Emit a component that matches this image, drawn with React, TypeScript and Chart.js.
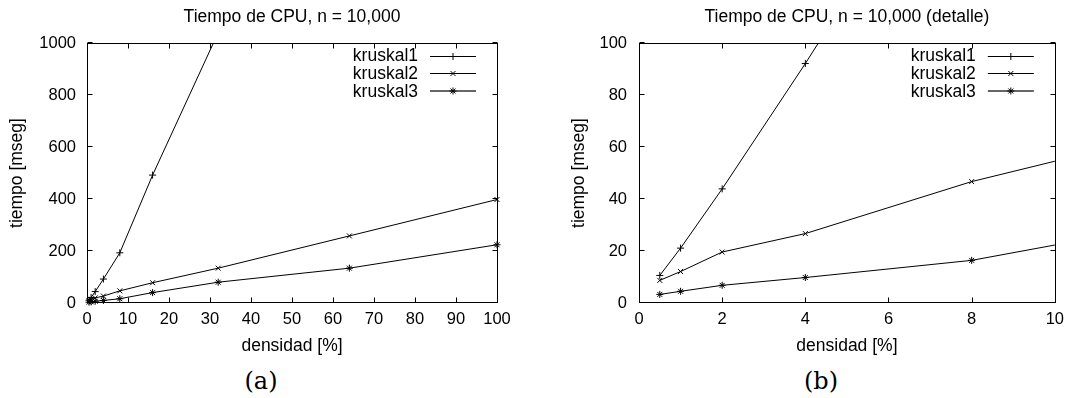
import React, { useEffect, useRef } from 'react';
import { Chart, registerables } from 'chart.js';
import { drawPoint } from 'chart.js/helpers';

Chart.register(...registerables);

// ---- data ----
const densidad = [0.5, 1, 2, 4, 8, 16, 32, 64, 100];
const kruskal1 = [10.6, 21.1, 43.9, 92.1, 193, 492, 1040];
const kruskal2 = [8.7, 12.1, 19.6, 26.7, 46.7, 78, 134, 258, 398];
const kruskal3 = [3.3, 4.5, 6.8, 9.8, 16.4, 40, 80, 134, 224];
const seriesNames = ['kruskal1', 'kruskal2', 'kruskal3'];
const seriesValues = [kruskal1, kruskal2, kruskal3];
const seriesMarkers = ['cross', 'crossRot', 'star'];

const titleA = 'Tiempo de CPU, n = 10,000';
const titleB = 'Tiempo de CPU, n = 10,000 (detalle)';
const xTitle = 'densidad [%]';
const yTitle = 'tiempo [mseg]';
const captionA = '(a)';
const captionB = '(b)';

const xRangeA = [0, 100, 10];
const yRangeA = [0, 1000, 200];
const xRangeB = [0, 10, 2];
const yRangeB = [0, 100, 20];

const FAMILY = '"Liberation Sans", Arial, sans-serif';

const framePlugin = {
  id: 'gnuFrame',
  afterDatasetsDraw(chart: any) {
    const { ctx, chartArea: a, scales } = chart;
    const L = Math.round(a.left) + 0.5;
    const R = Math.round(a.right) + 0.5;
    const T = Math.round(a.top) + 0.5;
    const B = Math.round(a.bottom) - 0.5;
    const tl = 5;
    ctx.save();
    ctx.strokeStyle = '#000';
    ctx.lineWidth = 1;
    ctx.beginPath();
    scales.x.ticks.forEach((t: any) => {
      const px = Math.round(scales.x.getPixelForValue(t.value)) + 0.5;
      ctx.moveTo(px, B); ctx.lineTo(px, B - tl);
      ctx.moveTo(px, T); ctx.lineTo(px, T + tl);
    });
    scales.y.ticks.forEach((t: any) => {
      const py = Math.round(scales.y.getPixelForValue(t.value)) - 0.5;
      ctx.moveTo(L, py); ctx.lineTo(L + tl, py);
      ctx.moveTo(R, py); ctx.lineTo(R - tl, py);
    });
    ctx.stroke();
    ctx.strokeRect(L, T, R - L, B - T);
    ctx.restore();
  },
  afterDraw(chart: any) {
    const { ctx, chartArea: a } = chart;
    ctx.save();
    ctx.font = '17.5px ' + FAMILY;
    ctx.textAlign = 'right';
    ctx.textBaseline = 'middle';
    chart.data.datasets.forEach((ds: any, i: number) => {
      const y = a.top + 12.5 + i * 17.7;
      ctx.fillStyle = '#000';
      ctx.fillText(ds.label, a.right - 79, y + 1);
      ctx.beginPath();
      ctx.strokeStyle = i === 2 ? '#666' : '#000';
      ctx.lineWidth = i === 2 ? 2 : 1;
      const ly = Math.round(y) + (i === 2 ? 0 : 0.5);
      ctx.moveTo(a.right - 67, ly);
      ctx.lineTo(a.right - 21, ly);
      ctx.stroke();
      ctx.strokeStyle = '#000';
      ctx.fillStyle = '#000';
      ctx.lineWidth = 1;
      drawPoint(ctx, { pointStyle: ds.pointStyle, radius: 3.5, borderWidth: 1, rotation: 0 } as any, a.right - 44, ly);
    });
    ctx.restore();
  },
};

type PanelProps = {
  left: number;
  width: number;
  height: number;
  title: string;
  xr: number[];
  yr: number[];
  yWidth: number;
  padRight: number;
  yTitlePad: number;
  yTickPad: number;
  clip: any;
};

function Panel(p: PanelProps) {
  const ref = useRef<HTMLCanvasElement | null>(null);
  useEffect(() => {
    if (!ref.current) return;
    const datasets = seriesNames.map((name, i) => ({
      label: name,
      data: seriesValues[i].map((v, j) => ({ x: densidad[j], y: v })),
      borderColor: '#000',
      backgroundColor: '#000',
      borderWidth: 1,
      pointStyle: seriesMarkers[i],
      pointRadius: 3.5,
      pointBorderWidth: 1,
      pointBorderColor: '#000',
      pointBackgroundColor: '#000',
      tension: 0,
      fill: false,
      clip: p.clip,
    }));
    const tickFont = { family: FAMILY, size: 16.5 };
    const textFont = { family: FAMILY, size: 17.5, weight: 'normal' as const };
    const plain = (v: any) => String(v);
    const chart = new Chart(ref.current, {
      type: 'line',
      data: { datasets },
      options: {
        responsive: false,
        animation: false,
        layout: { padding: { left: 0, right: p.padRight, top: 0, bottom: 0 } },
        plugins: {
          legend: { display: false },
          tooltip: { enabled: false },
          title: {
            display: true,
            text: p.title,
            color: '#000',
            font: textFont,
            padding: { top: 6.5, bottom: 15.5 },
            fullSize: false,
          } as any,
        },
        scales: {
          x: {
            type: 'linear',
            min: p.xr[0],
            max: p.xr[1],
            ticks: { stepSize: p.xr[2], color: '#000', font: tickFont, padding: 7, maxRotation: 0, autoSkip: false, callback: plain },
            grid: { display: false, drawTicks: false },
            border: { display: false },
            title: { display: true, text: xTitle, color: '#000', font: textFont, padding: { top: 0, bottom: 8 } },
            afterFit: (s: any) => { s.height = 62; },
          },
          y: {
            type: 'linear',
            min: p.yr[0],
            max: p.yr[1],
            ticks: { stepSize: p.yr[2], color: '#000', font: tickFont, padding: p.yTickPad, callback: plain },
            grid: { display: false, drawTicks: false },
            border: { display: false },
            title: { display: true, text: yTitle, color: '#000', font: textFont, padding: { top: p.yTitlePad, bottom: 0 } },
            afterFit: (s: any) => { s.width = p.yWidth; },
          },
        },
      },
      plugins: [framePlugin],
    });
    return () => chart.destroy();
  }, []);
  return (
    <canvas
      ref={ref}
      width={p.width}
      height={p.height}
      style={{ position: 'absolute', left: p.left, top: 0, width: p.width, height: p.height }}
    />
  );
}

const captionStyle: React.CSSProperties = {
  position: 'absolute',
  top: 369,
  width: 100,
  textAlign: 'center',
  fontFamily: '"DejaVu Serif", serif',
  fontSize: 24,
  lineHeight: '24px',
  color: '#000',
};

export default function App() {
  return (
    <div style={{ position: 'absolute', left: 0, top: 0, width: 1071, height: 398, background: '#fff' }}>
      <Panel left={0} width={540} height={365} title={titleA} xr={xRangeA} yr={yRangeA}
        yWidth={87} padRight={43} yTitlePad={7} yTickPad={11}
        clip={{ left: 6, right: 6, top: 0, bottom: 6 }} />
      <Panel left={540} width={531} height={365} title={titleB} xr={xRangeB} yr={yRangeB}
        yWidth={99} padRight={12} yTitlePad={29} yTickPad={12}
        clip={{ left: 6, right: 0, top: 0, bottom: 6 }} />
      <div style={{ ...captionStyle, left: 211 }}>{captionA}</div>
      <div style={{ ...captionStyle, left: 771 }}>{captionB}</div>
    </div>
  );
}
